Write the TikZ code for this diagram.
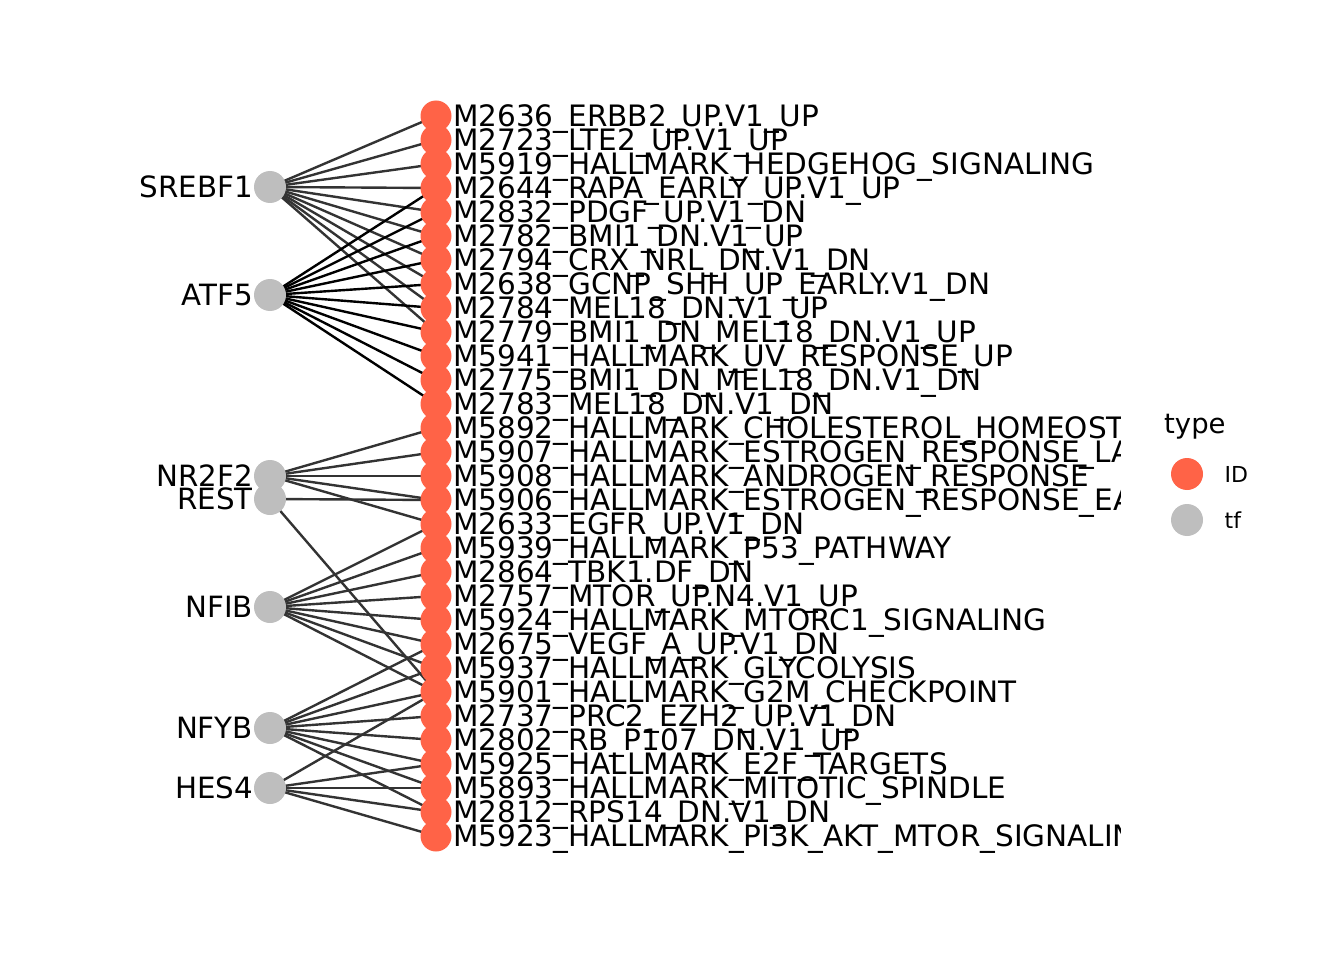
\documentclass[tikz,border=0pt]{standalone}
\usepackage{fontspec}
\setmainfont{DejaVu Sans}
\usetikzlibrary{backgrounds}
\definecolor{idc}{HTML}{FF6347}
\definecolor{tfc}{HTML}{BEBEBE}
\definecolor{edgec}{HTML}{333333}
\begin{document}
\begin{tikzpicture}[x=1pt,y=-1pt,
 idnode/.style={circle,fill=idc,minimum size=31pt,inner sep=0pt},
 tfnode/.style={circle,fill=tfc,minimum size=32pt,inner sep=0pt},
 idlabel/.style={anchor=base west,inner sep=0pt,font=\fontsize{29.5}{29.5}\selectfont},
 tflabel/.style={anchor=base east,inner sep=0pt,font=\fontsize{29.3}{29.3}\selectfont},
 edgeg/.style={draw=edgec,line width=2.4pt},
 edgeb/.style={draw=black,line width=2.4pt},
 legtitle/.style={anchor=base west,inner sep=0pt,font=\fontsize{27.5}{27.5}\selectfont},
 leglabel/.style={anchor=base west,inner sep=0pt,font=\fontsize{22}{22}\selectfont}]
\useasboundingbox (0,0) rectangle (1344,960);
% ID nodes
\foreach \k in {1,...,31} {
  \node[idnode] (i\k) at (436,{116+24*(\k-1)}) {};
}
% TF nodes
\node[tfnode] (SREBF1) at (270,187) {};
\node[tfnode] (ATF5) at (270,295) {};
\node[tfnode] (NR2F2) at (270,476) {};
\node[tfnode] (REST) at (270,499) {};
\node[tfnode] (NFIB) at (270,607) {};
\node[tfnode] (NFYB) at (270,728) {};
\node[tfnode] (HES4) at (270,788) {};
% edges
\begin{scope}[on background layer]
\foreach \k in {1,...,10} { \draw[edgeg] (SREBF1.center) -- (i\k.center); }
\foreach \k in {4,...,13} { \draw[edgeb] (ATF5.center) -- (i\k.center); }
\foreach \k in {14,...,18} { \draw[edgeg] (NR2F2.center) -- (i\k.center); }
\foreach \k in {17,25} { \draw[edgeg] (REST.center) -- (i\k.center); }
\foreach \k in {18,...,25} { \draw[edgeg] (NFIB.center) -- (i\k.center); }
\foreach \k in {23,...,30} { \draw[edgeg] (NFYB.center) -- (i\k.center); }
\foreach \k in {25,28,29,30,31} { \draw[edgeg] (HES4.center) -- (i\k.center); }
\end{scope}
% TF labels
\node[tflabel] (tSREBF1) at (253,197.8) {SREBF1};
\node[tflabel] (tATF5) at (253,305.8) {ATF5};
\node[tflabel] (tNR2F2) at (253,486.8) {NR2F2};
\node[tflabel] (tREST) at (253,509.8) {REST};
\node[tflabel] (tNFIB) at (253,617.8) {NFIB};
\node[tflabel] (tNFYB) at (253,738.8) {NFYB};
\node[tflabel] (tHES4) at (253,798.8) {HES4};
% ID labels
\begin{scope}
\clip (440,0) rectangle (1120,960);
\foreach \k/\t in {
 1/M2636\_ERBB2\_UP.V1\_UP,
 2/M2723\_LTE2\_UP.V1\_UP,
 3/M5919\_HALLMARK\_HEDGEHOG\_SIGNALING,
 4/M2644\_RAPA\_EARLY\_UP.V1\_UP,
 5/M2832\_PDGF\_UP.V1\_DN,
 6/M2782\_BMI1\_DN.V1\_UP,
 7/M2794\_CRX\_NRL\_DN.V1\_DN,
 8/M2638\_GCNP\_SHH\_UP\_EARLY.V1\_DN,
 9/M2784\_MEL18\_DN.V1\_UP,
 10/M2779\_BMI1\_DN\_MEL18\_DN.V1\_UP,
 11/M5941\_HALLMARK\_UV\_RESPONSE\_UP,
 12/M2775\_BMI1\_DN\_MEL18\_DN.V1\_DN,
 13/M2783\_MEL18\_DN.V1\_DN,
 14/M5892\_HALLMARK\_CHOLESTEROL\_HOMEOSTASIS,
 15/M5907\_HALLMARK\_ESTROGEN\_RESPONSE\_LATE,
 16/M5908\_HALLMARK\_ANDROGEN\_RESPONSE,
 17/M5906\_HALLMARK\_ESTROGEN\_RESPONSE\_EARLY,
 18/M2633\_EGFR\_UP.V1\_DN,
 19/M5939\_HALLMARK\_P53\_PATHWAY,
 20/M2864\_TBK1.DF\_DN,
 21/M2757\_MTOR\_UP.N4.V1\_UP,
 22/M5924\_HALLMARK\_MTORC1\_SIGNALING,
 23/M2675\_VEGF\_A\_UP.V1\_DN,
 24/M5937\_HALLMARK\_GLYCOLYSIS,
 25/M5901\_HALLMARK\_G2M\_CHECKPOINT,
 26/M2737\_PRC2\_EZH2\_UP.V1\_DN,
 27/M2802\_RB\_P107\_DN.V1\_UP,
 28/M5925\_HALLMARK\_E2F\_TARGETS,
 29/M5893\_HALLMARK\_MITOTIC\_SPINDLE,
 30/M2812\_RPS14\_DN.V1\_DN,
 31/M5923\_HALLMARK\_PI3K\_AKT\_MTOR\_SIGNALING} {
  \node[idlabel] (l\k) at (453,{126.8+24*(\k-1)}) {\t};
}
\end{scope}
% legend
\node[legtitle] (legt) at (1164,433) {type};
\node[idnode,minimum size=32pt] (legid) at (1187,474) {};
\node[tfnode] (legtf) at (1187,520) {};
\node[leglabel] (legidl) at (1224.5,482.7) {ID};
\node[leglabel] (legtfl) at (1224.5,528.7) {tf};
\end{tikzpicture}
\end{document}
